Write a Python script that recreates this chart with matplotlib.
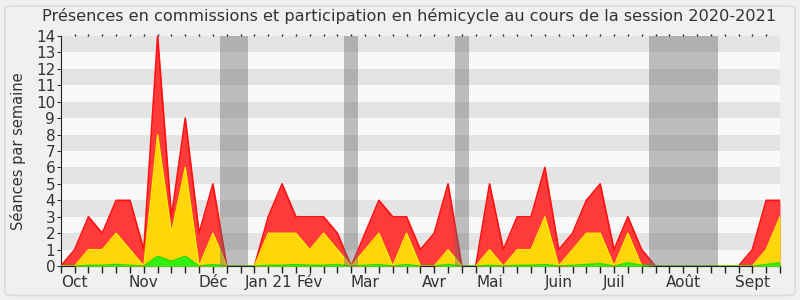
import numpy as np
import matplotlib
matplotlib.use("Agg")
import matplotlib.pyplot as plt
from matplotlib.patches import FancyBboxPatch

# weekly levels of the stacked areas (cumulative)
niveau_rouge = [0, 1, 3, 2, 4, 4, 1, 14, 3, 9, 2, 5, 0, 0, 0, 3, 5, 3, 3, 3,
                2, 0, 2, 4, 3, 3, 1, 2, 5, 0, 0, 5, 1, 3, 3, 6, 1, 2, 4, 5,
                1, 3, 1, 0, 0, 0, 0, 0, 0, 0, 1, 4, 4]
niveau_jaune = [0, 0, 1, 1, 2, 1, 0, 8, 2, 6, 0, 2, 0, 0, 0, 2, 2, 2, 1, 2,
                1, 0, 1, 2, 0, 2, 0, 0, 1, 0, 0, 1, 0, 1, 1, 3, 0, 1, 2, 2,
                0, 2, 0, 0, 0, 0, 0, 0, 0, 0, 0, 1, 3]
niveau_vert = [0, 0, 0.05, 0.05, 0.1, 0.05, 0, 0.6, 0.3, 0.6, 0, 0.1, 0, 0, 0,
               0.05, 0.05, 0.1, 0.05, 0.05, 0.1, 0, 0.05, 0.1, 0, 0.1, 0, 0,
               0.1, 0, 0, 0.05, 0, 0.05, 0.05, 0.1, 0, 0.05, 0.1, 0.15, 0,
               0.2, 0.05, 0, 0, 0, 0, 0, 0, 0, 0, 0.1, 0.2]

mois = ["Oct", "Nov", "Déc", "Jan 21", "Fév", "Mar", "Avr", "Mai", "Juin",
        "Juil", "Août", "Sept"]
semaine_mois = [1, 6, 11, 15, 18, 22, 27, 31, 36, 40, 45, 50]

vacances = [(11.5, 13.5), (20.5, 21.5), (28.5, 29.5), (42.5, 47.5)]

semaines = np.arange(len(niveau_rouge))

fig = plt.figure(figsize=(8, 3), dpi=100, facecolor="#f0f0f0")
fig.patches.append(FancyBboxPatch((0.006, 0.015), 0.988, 0.965,
                                  boxstyle="round,pad=0,rounding_size=0.01",
                                  transform=fig.transFigure, facecolor="#f0f0f0",
                                  edgecolor="#dcdcdc", lw=1.2, zorder=-10))
ax = fig.add_axes([0.076, 0.113, 0.899, 0.767])
ax.set_facecolor("#f9f9f9")

# alternating horizontal stripes
for y in range(1, 14, 2):
    ax.axhspan(y, y + 1, color="#e4e4e4", zorder=0, lw=0)

ax.fill_between(semaines, 0, niveau_rouge, color="#ff3a3a", lw=0, zorder=2)
ax.plot(semaines, niveau_rouge, color="#ff1010", lw=1.2, zorder=3)
ax.fill_between(semaines, 0, niveau_jaune, color="#ffd60a", lw=0, zorder=4)
ax.plot(semaines, niveau_jaune, color="#ffee00", lw=1, zorder=5)
ax.fill_between(semaines, 0, niveau_vert, color="#33ee11", lw=0, zorder=6)
ax.plot(semaines, niveau_vert, color="#22dd00", lw=1, zorder=7)

for a, b in vacances:
    ax.axvspan(a, b, color="#6a6a6a", alpha=0.42, lw=0, zorder=8)

ax.set_xlim(0, len(semaines) - 1)
ax.set_ylim(0, 14)
ax.set_yticks(range(15))
ax.tick_params(axis="y", labelsize=11, colors="#333333", length=3, pad=1)
ax.set_xticks(semaines)
ax.set_xticklabels([""] * len(semaines))
ax.tick_params(axis="x", length=5, width=1, color="#222222")
for s, m in zip(semaine_mois, mois):
    ax.text(s, -0.55, m, ha="center", va="top", fontsize=11, color="#333333",
            transform=ax.transData, clip_on=False)

top = ax.secondary_xaxis("top")
top.set_xticks(semaines[1:-1])
top.set_xticklabels([])
top.tick_params(length=1.5, width=1, color="#222222", direction="out")
top.spines["top"].set_visible(False)

for side in ["top", "right"]:
    ax.spines[side].set_visible(False)
ax.spines["left"].set_color("#222222")
ax.spines["bottom"].set_color("#222222")

ax.set_ylabel("Séances par semaine", fontsize=10.5, color="#333333", labelpad=7)
fig.suptitle("Présences en commissions et participation en hémicycle au cours de la session 2020-2021",
             fontsize=11.6, color="#333333", y=0.975, x=0.511)

fig.savefig("out.png", dpi=100, facecolor=fig.get_facecolor())
